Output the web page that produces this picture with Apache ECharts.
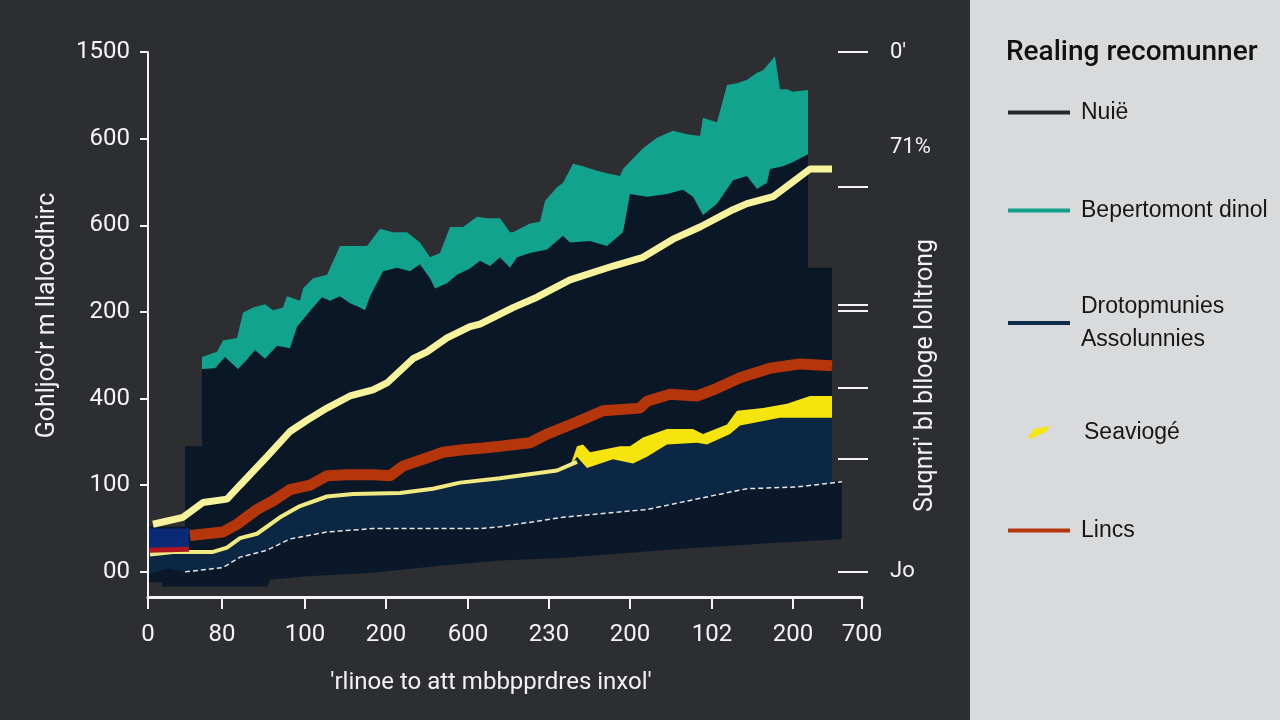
<!DOCTYPE html>
<html><head><meta charset="utf-8">
<script src="https://cdn.jsdelivr.net/npm/echarts@6/dist/echarts.min.js"></script>
<style>html,body{margin:0;padding:0;background:#2c2e32}#c{width:1280px;height:720px}</style>
</head><body><div id="c"></div>
<script>
// ---- axis ticks / labels ----
const xTickValues = [0, 74, 157, 238, 320, 401, 482, 564, 645, 714];
const xTickLabels = ['0', '80', '100', '200', '600', '230', '200', '102', '200', '700'];
const yTickValues = [0, 100, 200, 300, 400, 500, 600];
const yTickLabels = ['00', '100', '400', '200', '600', '600', '1500'];
const rightTickValues = [600, 444, 308, 301, 212, 131, 0];
const rightLabelValues = [600, 490, 0];
const rightLabels = ["0'", '71%', 'Jo'];

// ---- series values [x, y] ----
const tealTop = [[54,248],[69,254],[75,267],[89,270],[95,299],[105,305],[117,309],[125,302],[135,305],[139,318],[152,313],[155,327],[165,339],[179,343],[192,376],[219,376],[232,396],[245,392],[259,392],[272,380],[282,363],[292,368],[302,398],[315,398],[329,410],[339,408],[352,408],[362,392],[365,392],[382,402],[392,404],[397,428],[409,444],[415,449],[425,471],[435,468],[449,463],[459,460],[472,457],[475,465],[485,477],[495,489],[509,501],[525,509],[539,505],[552,503],[555,524],[569,519],[579,562],[589,564],[599,568],[609,576],[615,579],[627,595],[632,557],[639,557],[645,554],[660,556]];
const darkTop = [[0,52],[37,52],[37,145],[54,145],[54,234],[67,235],[77,248],[90,234],[99,245],[107,256],[117,246],[129,261],[142,258],[149,283],[162,301],[174,317],[182,313],[192,318],[202,310],[212,305],[217,302],[222,318],[235,347],[249,351],[262,347],[272,355],[282,339],[287,327],[299,333],[309,343],[322,350],[332,359],[342,353],[352,363],[362,351],[369,363],[382,368],[399,372],[415,388],[422,380],[442,382],[459,376],[475,392],[482,436],[499,433],[519,436],[535,441],[545,433],[555,412],[569,425],[585,452],[599,457],[609,442],[619,449],[622,465],[635,468],[645,473],[660,482],[660,351],[684,351],[684,105],[694,105]];
const blueBlock = [[0,50],[41,50]];
const yellowBandTop = [[422,122],[429,145],[435,147],[442,138],[472,145],[482,145],[495,155],[519,165],[545,165],[555,159],[579,170],[589,186],[615,189],[639,194],[662,203],[684,203]];
const navyTop = [[0,22],[25,23],[65,23],[79,28],[92,39],[109,44],[132,63],[152,76],[179,87],[205,90],[252,91],[285,96],[312,103],[352,108],[409,117],[422,122],[429,133],[439,120],[465,130],[485,125],[499,133],[519,147],[549,149],[559,147],[582,159],[592,169],[632,178],[662,178],[684,178]];
const lowerDarkTop = [[0,-3],[20,4],[37,0],[75,5],[92,17],[119,25],[142,38],[179,46],[225,50],[292,50],[332,50],[352,52],[415,63],[499,72],[565,88],[599,96],[649,98],[694,104]];
const darkBottom = [[0,-12],[14,-12],[14,-17],[119,-17],[122,-9],[159,-5],[225,-1],[292,7],[352,13],[412,16],[482,22],[552,28],[622,33],[694,38]];
const thinLine = [[2,20],[25,23],[42,23],[65,23],[79,28],[92,39],[109,44],[132,63],[152,76],[179,87],[205,90],[252,91],[285,96],[312,103],[352,108],[409,117],[429,127]];
const dashedLine = [[37,0],[75,5],[92,17],[119,25],[142,38],[179,46],[225,50],[292,50],[332,50],[352,52],[415,63],[499,72],[565,88],[599,96],[649,98],[694,104]];
const redStrip = [[0,25],[41,26]];
const redLine = [[42,42],[75,46],[89,55],[109,72],[125,82],[142,95],[162,100],[179,111],[199,112],[225,112],[242,111],[255,122],[275,130],[295,138],[315,141],[335,143],[352,145],[382,149],[399,159],[429,173],[455,186],[492,189],[499,197],[522,205],[549,203],[565,210],[592,224],[622,235],[652,240],[684,238]];
const bigYellow = [[5,55],[35,63],[55,80],[79,84],[92,100],[119,133],[142,162],[159,175],[179,189],[202,203],[225,210],[239,218],[265,246],[279,254],[299,270],[322,283],[332,286],[365,305],[389,317],[422,337],[465,353],[495,363],[525,384],[552,398],[585,418],[599,425],[625,433],[662,465],[684,465]];

const BG = '#2c2e32';
const chart = echarts.init(document.getElementById('c'));
const base = { type: 'line', showSymbol: false, symbol: 'none', silent: true, xAxisIndex: 0, yAxisIndex: 0 };
const area = (name, data, color) => Object.assign({}, base, {
  name, data, lineStyle: { width: 0 }, itemStyle: { color },
  areaStyle: { color, opacity: 1, origin: 'start' }
});
const line = (name, data, color, width, type) => Object.assign({}, base, {
  name, data, itemStyle: { color }, lineStyle: { color, width, type: type || 'solid' }
});
const legendText = { color: '#161616', fontSize: 23, fontFamily: 'Liberation Sans, Arial, sans-serif', padding: [0, 0, 0, 6] };
const mkLegend = (top, left, name, color, extra) => Object.assign({
  top, left, orient: 'vertical', selectedMode: false, icon: 'rect', itemWidth: 62, itemHeight: 4,
  textStyle: legendText, data: [{ name, itemStyle: { color } }]
}, extra || {});

chart.setOption({
  animation: false,
  backgroundColor: BG,
  textStyle: { fontFamily: 'Roboto, sans-serif' },
  graphic: [{ type: 'rect', left: 970, top: 0, z: -1, shape: { width: 310, height: 720 }, style: { fill: '#d9dadc' } }],
  title: { text: 'Realing recomunner', left: 1001, top: 34,
    textStyle: { fontSize: 28, fontWeight: 500, color: '#111', fontFamily: 'Roboto, sans-serif' } },
  legend: [
    mkLegend(96, 1003, 'Nuië', '#25272b'),
    mkLegend(194, 1003, 'Bepertomont dinol', '#129e8c'),
    mkLegend(285, 1003, 'Drotopmunies Assolunnies', '#102a4a', {
      formatter: n => n.replace(' ', '\n'),
      textStyle: Object.assign({}, legendText, { lineHeight: 33 }) }),
    mkLegend(416, 1023, 'Seaviogé', '#f5e60f', {
      icon: 'path://M2,12 L8,3 L24,0 L20,6 L4,13 Z', itemWidth: 24, itemHeight: 13,
      textStyle: Object.assign({}, legendText, { padding: [0, 0, 0, 28] }) }),
    mkLegend(514, 1003, 'Lincs', '#b5360a')
  ],
  grid: { left: 148, right: 418, top: 52, bottom: 123, containLabel: false },
  xAxis: {
    type: 'value', min: 0, max: 714, z: 10,
    name: "'rlinoe to att mbbpprdres inxol'", nameLocation: 'middle', nameGap: 74, nameMoveOverlap: false,
    nameTextStyle: { color: '#f2f2f2', fontSize: 24, padding: [0, 28, 0, 0] },
    axisLine: { show: true, onZero: false, lineStyle: { color: '#f4f4f4', width: 3 } },
    axisTick: { show: true, length: 12, lineStyle: { color: '#f4f4f4', width: 2 }, customValues: xTickValues },
    axisLabel: { color: '#f4f4f4', fontSize: 24, margin: 26, customValues: xTickValues,
      formatter: v => xTickLabels[xTickValues.indexOf(v)] },
    splitLine: { show: false }
  },
  yAxis: [{
    type: 'value', min: -29, max: 600, z: 10,
    name: "Gohljoo'r m llalocdhirc", nameLocation: 'middle', nameGap: 88, nameRotate: 90, nameMoveOverlap: false,
    nameTextStyle: { color: '#f2f2f2', fontSize: 25, padding: [0, 0, 0, 18] },
    axisLine: { show: true, onZero: false, lineStyle: { color: '#f4f4f4', width: 2 } },
    axisTick: { show: true, length: 8, lineStyle: { color: '#f4f4f4', width: 2 }, customValues: yTickValues },
    axisLabel: { color: '#f4f4f4', fontSize: 24, margin: 18, customValues: yTickValues,
      formatter: v => yTickLabels[yTickValues.indexOf(v)] },
    splitLine: { show: false }
  }, {
    type: 'value', min: -29, max: 600, position: 'right', offset: -24, z: 10,
    name: "Suqnri' bl blloge lolltrong", nameLocation: 'middle', nameGap: 75, nameRotate: 90, nameMoveOverlap: false,
    nameTextStyle: { color: '#f2f2f2', fontSize: 25, padding: [0, 102, 0, 0] },
    axisLine: { show: false, onZero: false },
    axisTick: { show: true, length: 30, lineStyle: { color: '#f4f4f4', width: 2 }, customValues: rightTickValues },
    axisLabel: { color: '#f4f4f4', fontSize: 22, margin: 52, customValues: rightLabelValues,
      formatter: v => rightLabels[rightLabelValues.indexOf(v)] },
    splitLine: { show: false }
  }],
  series: [
    area('Bepertomont dinol', tealTop, '#12a38f'),
    area('Nuië', darkTop, '#0a1727'),
    area('block', blueBlock, '#0a2a78'),
    area('Seaviogé', yellowBandTop, '#f5e40e'),
    area('Drotopmunies Assolunnies', navyTop, '#0c2744'),
    area('lower', lowerDarkTop, '#0a1829'),
    area('cover', darkBottom, BG),
    line('thin', thinLine, '#f1ea80', 4),
    line('dashed', dashedLine, '#e6e6e6', 1.5, [5, 3]),
    line('strip', redStrip, '#b0161e', 5),
    line('Lincs', redLine, '#b5360a', 11),
    line('bigYellow', bigYellow, '#f7f39c', 7)
  ]
});
</script>
</body></html>
